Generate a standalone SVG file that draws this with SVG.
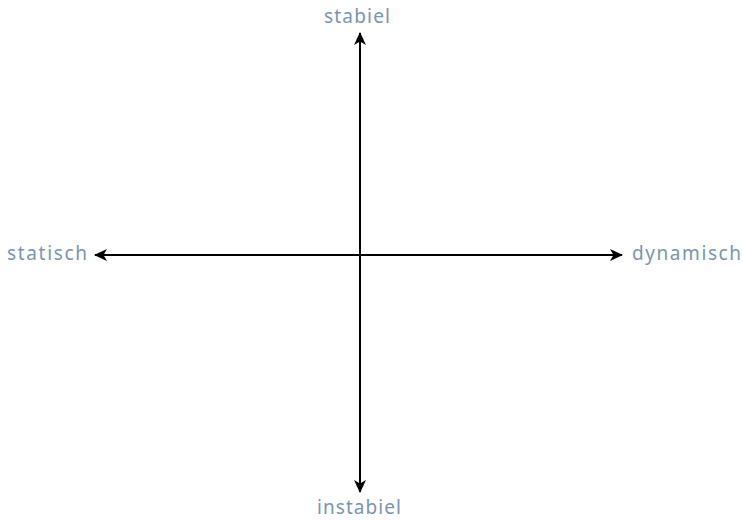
<svg xmlns="http://www.w3.org/2000/svg" width="743" height="520" viewBox="0 0 743 520">
<style>
.lbl{font-family:"Noto Sans","Liberation Sans",sans-serif;font-size:19px;fill:#7b95b0}
.ax{stroke:#000;stroke-width:2;fill:none}
</style>
<defs>
<marker id="ah" viewBox="0 0 13 12" refX="12" refY="6" markerWidth="13" markerHeight="12" markerUnits="userSpaceOnUse" orient="auto-start-reverse">
<path d="M0,0 L13,6 L0,12 L3.5,6 Z" fill="#000"/>
</marker>
</defs>
<g id="connectors">
<line class="ax" x1="360" y1="492" x2="360" y2="33" marker-start="url(#ah)" marker-end="url(#ah)"/>
<line class="ax" x1="95" y1="255" x2="622" y2="255" marker-start="url(#ah)" marker-end="url(#ah)"/>
</g>
<g id="stabiel"><text class="lbl" x="324" y="23" textLength="66" lengthAdjust="spacing">stabiel</text></g>
<g id="instabiel"><text class="lbl" x="317" y="514" textLength="84" lengthAdjust="spacing">instabiel</text></g>
<g id="statisch"><text class="lbl" x="7" y="260" textLength="80" lengthAdjust="spacing">statisch</text></g>
<g id="dynamisch"><text class="lbl" x="632" y="260" textLength="109" lengthAdjust="spacing">dynamisch</text></g>
</svg>
